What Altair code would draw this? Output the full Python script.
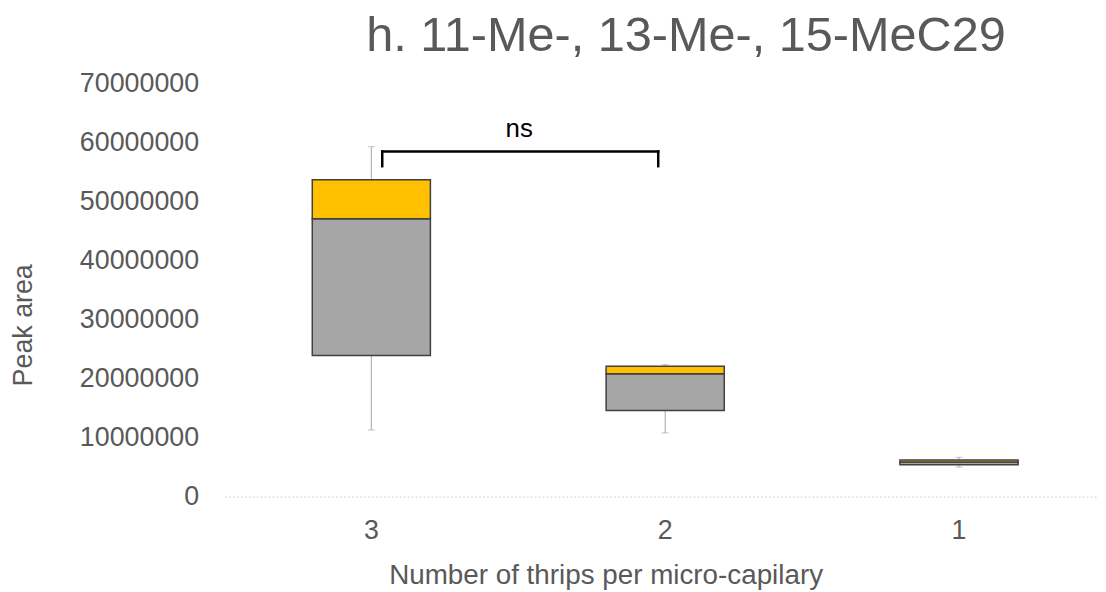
import altair as alt
import pandas as pd

# ---- data ----
groups = ["3", "2", "1"]
q1 = [23900000, 14600000, 5400000]
median = [47100000, 20800000, 5850000]
q3 = [53700000, 22100000, 6200000]
whisker_low = [11300000, 10800000, 5000000]
whisker_high = [59300000, 22350000, 6650000]

y_ticks = [0, 10000000, 20000000, 30000000, 40000000, 50000000, 60000000, 70000000]

bracket_from = "3"
bracket_to = "2"
bracket_top = 58500000
bracket_end = 56000000
bracket_label = "ns"

df = pd.DataFrame({
    "group": groups, "q1": q1, "median": median, "q3": q3,
    "lo": whisker_low, "hi": whisker_high,
})
br = pd.DataFrame({"a": [bracket_from], "b": [bracket_to], "top": [bracket_top],
                   "end": [bracket_end], "label": [bracket_label]})

FONT = "Liberation Sans"
GREY_TXT = "#595959"

x_scale = alt.Scale(domain=groups, range=[0, 888], paddingInner=0, paddingOuter=0)
y_scale = alt.Scale(domain=[0, 70000000], nice=False, zero=True)

x_enc = alt.X("group:N", scale=x_scale, sort=groups,
              axis=alt.Axis(title="Number of thrips per micro-capilary", labelAngle=0,
                            labelFontSize=27, labelFont=FONT, labelColor=GREY_TXT,
                            labelPadding=21, ticks=False, domain=True,
                            domainColor="#D0D0D0", domainDash=[2, 2], domainWidth=1,
                            titleFont=FONT, titleFontSize=28, titleFontWeight="normal",
                            titleColor=GREY_TXT, titleX=384, titleY=88,
                            titleBaseline="alphabetic", titleAnchor="middle"))
y_axis = alt.Axis(title="Peak area", values=y_ticks, format="d", grid=False,
                  domain=False, ticks=False, labelFontSize=27, labelFont=FONT,
                  labelColor=GREY_TXT, labelPadding=26,
                  titleFont=FONT, titleFontSize=27, titleFontWeight="normal",
                  titleColor=GREY_TXT, titleX=-194, titleY=243, titleAngle=270,
                  titleBaseline="alphabetic", titleAnchor="middle")

base = alt.Chart(df)

whisk = base.mark_rule(color="#A6A6A6", strokeWidth=1).encode(
    x=x_enc, y=alt.Y("lo:Q", scale=y_scale, axis=y_axis), y2="hi:Q")
cap_lo = base.mark_tick(color="#A6A6A6", thickness=1, size=7).encode(
    x=alt.X("group:N", scale=x_scale, sort=groups), y=alt.Y("lo:Q", scale=y_scale))
cap_hi = base.mark_tick(color="#A6A6A6", thickness=1, size=7).encode(
    x=alt.X("group:N", scale=x_scale, sort=groups), y=alt.Y("hi:Q", scale=y_scale))
lower = base.mark_bar(size=119, color="#A6A6A6", stroke="#404040", strokeWidth=1.5).encode(
    x=alt.X("group:N", scale=x_scale, sort=groups), y=alt.Y("q1:Q", scale=y_scale), y2="median:Q")
upper = base.mark_bar(size=119, color="#FFC000", stroke="#404040", strokeWidth=1.5).encode(
    x=alt.X("group:N", scale=x_scale, sort=groups), y=alt.Y("median:Q", scale=y_scale), y2="q3:Q")

bb = alt.Chart(br)
br_h = bb.mark_rule(color="black", strokeWidth=2.5, xOffset=11, x2Offset=-7, strokeCap="square").encode(
    x=alt.X("a:N", scale=x_scale), x2="b:N", y=alt.Y("top:Q", scale=y_scale))
br_l = bb.mark_rule(color="black", strokeWidth=2.5, xOffset=11, strokeCap="square").encode(
    x=alt.X("a:N", scale=x_scale), y=alt.Y("end:Q", scale=y_scale), y2="top:Q")
br_r = bb.mark_rule(color="black", strokeWidth=2.5, xOffset=-7, strokeCap="square").encode(
    x=alt.X("b:N", scale=x_scale), y=alt.Y("end:Q", scale=y_scale), y2="top:Q")
ns = bb.mark_text(font=FONT, fontSize=26, color="black", baseline="alphabetic",
                  xOffset=149, dy=-15).encode(
    x=alt.X("a:N", scale=x_scale), y=alt.Y("top:Q", scale=y_scale), text="label:N")

chart = alt.layer(whisk, cap_lo, cap_hi, lower, upper, br_h, br_l, br_r, ns).properties(
    width=880, height=416,
    autosize=alt.AutoSizeParams(type="none"),
    padding={"left": 218, "top": 74, "right": 0, "bottom": 94},
    title=alt.TitleParams("h. 11-Me-, 13-Me-, 15-MeC29", font=FONT, fontSize=49,
                          fontWeight="normal", color=GREY_TXT, anchor="middle",
                          dx=25, dy=46, offset=16, baseline="alphabetic"),
).configure_view(stroke=None)

chart.save("out.html", embed_options={"renderer": "svg", "actions": False})
